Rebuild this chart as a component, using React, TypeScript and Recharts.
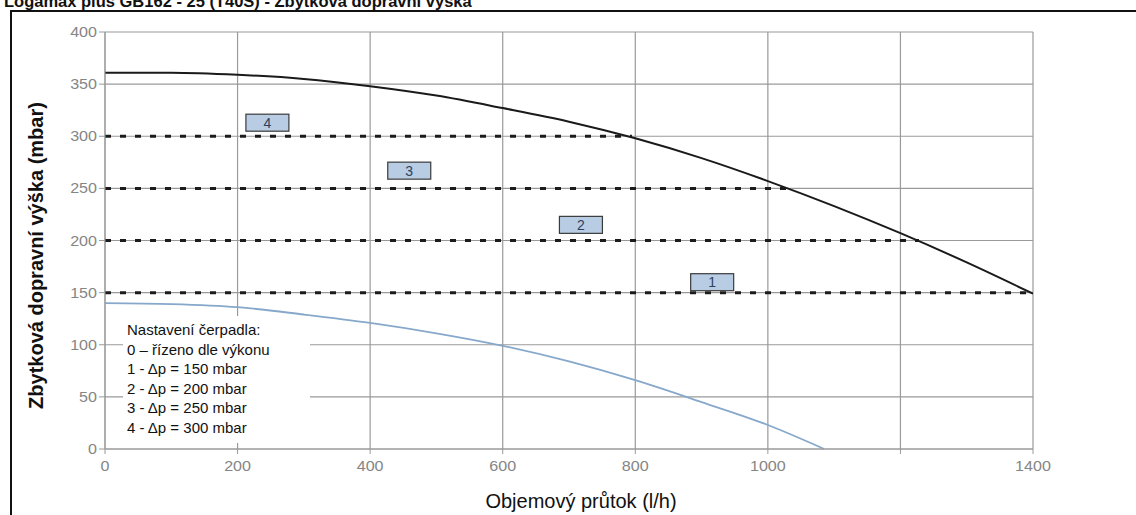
import React from 'react';
import {
  LineChart,
  Line,
  XAxis,
  YAxis,
  CartesianGrid,
  ReferenceDot
} from 'recharts';

// flow (l/h) and residual head (mbar)
const flowTicks = [0, 200, 400, 600, 800, 1000, 1200, 1400];
const headTicks = [0, 50, 100, 150, 200, 250, 300, 350, 400];

const maxFlow = [0, 100, 200, 300, 400, 500, 600, 700, 800, 900, 1000, 1100, 1200, 1300, 1400];
const maxHead = [361, 361, 359, 355, 348, 339, 327, 314, 298, 279, 257, 233, 207, 179, 149];

const ctrlFlow = [0, 100, 200, 300, 400, 500, 600, 700, 800, 900, 1000, 1085];
const ctrlHead = [140, 139, 136, 129, 121, 111, 99, 84, 66, 45, 23, 0];

const settingIds = ['1', '2', '3', '4'];
const settingHead = [150, 200, 250, 300];
const settingFlowEnd = [1400, 1228, 1030, 795];

const tagFlow = [916, 718, 459, 245];
const tagHead = [160, 215, 267, 313];

const legendLines = [
  'Nastavení čerpadla:',
  '0 – řízeno dle výkonu',
  '1 - Δp = 150 mbar',
  '2 - Δp = 200 mbar',
  '3 - Δp = 250 mbar',
  '4 - Δp = 300 mbar'
];

const TITLE = 'Logamax plus GB162 - 25 (T40S) - Zbytková dopravní výška';
const X_TITLE = 'Objemový průtok (l/h)';
const Y_TITLE = 'Zbytková dopravní výška (mbar)';

const FONT = "'Liberation Sans', Arial, sans-serif";
const GRID = '#9a9a9a';

const toPoints = (xs: number[], ys: number[]) => xs.map((x, i) => ({ x, y: ys[i] }));

const maxData = toPoints(maxFlow, maxHead);
const ctrlData = toPoints(ctrlFlow, ctrlHead);
const settingData = settingHead.map((h, i) => [
  { x: 0, y: h },
  { x: settingFlowEnd[i], y: h }
]);

const XTick = (props: any) => {
  const { x, y, payload } = props;
  if (payload.value === 1200) return null;
  return (
    <g transform={`translate(${x} ${y}) scale(1.15 1)`}>
      <text x={0} y={15} textAnchor="middle" fontSize={14} fontFamily={FONT} fill="#858585">
        {payload.value}
      </text>
    </g>
  );
};

const YTick = (props: any) => {
  const { x, y, payload } = props;
  return (
    <g transform={`translate(${x} ${y}) scale(1.15 1)`}>
      <text x={0} y={5} textAnchor="end" fontSize={14} fontFamily={FONT} fill="#858585">
        {payload.value}
      </text>
    </g>
  );
};

const YTitle = ({ viewBox }: any) => {
  const cx = viewBox.x - 9;
  const cy = viewBox.y + viewBox.height / 2 + 15;
  return (
    <text
      x={cx}
      y={cy}
      transform={`rotate(-90 ${cx} ${cy})`}
      textAnchor="middle"
      dominantBaseline="central"
      fontSize={20}
      fontWeight="bold"
      fontFamily={FONT}
      fill="#111"
    >
      {Y_TITLE}
    </text>
  );
};

const XTitle = ({ viewBox }: any) => (
  <text
    x={viewBox.x + viewBox.width / 2 + 12}
    y={viewBox.y + 59}
    textAnchor="middle"
    fontSize={20}
    fontFamily={FONT}
    fill="#111"
  >
    {X_TITLE}
  </text>
);

const tagShape = (id: string) => (props: any) => {
  const { cx, cy } = props;
  return (
    <g>
      <rect x={cx - 21.5} y={cy - 8.5} width={43} height={17} fill="#b8cce4" stroke="#3a3a3a" strokeWidth={1.2} />
      <text x={cx} y={cy + 5} textAnchor="middle" fontSize={14} fontFamily={FONT} fill="#2e4260">
        {id}
      </text>
    </g>
  );
};

export default function App() {
  return (
    <div
      style={{
        position: 'fixed',
        left: 0,
        top: 0,
        width: 1136,
        height: 515,
        overflow: 'hidden',
        background: '#fff'
      }}
    >
      <div
        style={{
          position: 'absolute',
          left: 4,
          top: -8,
          fontFamily: FONT,
          fontSize: 16.5,
          fontWeight: 'bold',
          lineHeight: '18px',
          whiteSpace: 'nowrap',
          color: '#111'
        }}
      >
        {TITLE}
      </div>
      <div
        style={{
          position: 'absolute',
          left: 10,
          top: 10,
          width: 1150,
          height: 530,
          border: '2px solid #111',
          boxSizing: 'border-box'
        }}
      />
      <div style={{ position: 'absolute', left: 0, top: 0 }}>
        <LineChart width={1136} height={515} margin={{ top: 32, right: 103, bottom: 36, left: 45 }}>
          <CartesianGrid stroke={GRID} strokeWidth={1.2} />
          <XAxis
            type="number"
            dataKey="x"
            domain={[0, 1400]}
            ticks={flowTicks}
            allowDataOverflow
            height={30}
            stroke={GRID}
            tickSize={5}
            tick={<XTick />}
            label={{ content: XTitle }}
          />
          <YAxis
            type="number"
            dataKey="y"
            domain={[0, 400]}
            ticks={headTicks}
            width={60}
            stroke={GRID}
            tickSize={6}
            tick={<YTick />}
            label={{ content: YTitle }}
          />
          {settingData.map((d, i) => (
            <Line
              key={`set-${settingIds[i]}`}
              data={d}
              dataKey="y"
              type="linear"
              stroke="#1c1c1c"
              strokeWidth={3}
              strokeDasharray="6 9"
              dot={false}
              activeDot={false}
              isAnimationActive={false}
            />
          ))}
          <Line
            data={ctrlData}
            dataKey="y"
            type="monotone"
            stroke="#86a8cb"
            strokeWidth={1.8}
            dot={false}
            activeDot={false}
            isAnimationActive={false}
          />
          <Line
            data={maxData}
            dataKey="y"
            type="monotone"
            stroke="#1a1a1a"
            strokeWidth={2}
            dot={false}
            activeDot={false}
            isAnimationActive={false}
          />
          {settingIds.map((id, i) => (
            <ReferenceDot key={`tag-${id}`} x={tagFlow[i]} y={tagHead[i]} shape={tagShape(id)} />
          ))}
        </LineChart>
      </div>
      <div
        style={{
          position: 'absolute',
          left: 123,
          top: 316,
          width: 187,
          height: 127,
          background: '#fff',
          boxSizing: 'border-box',
          padding: '4px 0 0 4px',
          fontFamily: FONT,
          fontSize: 15,
          lineHeight: '19.6px',
          color: '#111',
          whiteSpace: 'nowrap'
        }}
      >
        {legendLines.map((t) => (
          <div key={t}>{t}</div>
        ))}
      </div>
    </div>
  );
}
